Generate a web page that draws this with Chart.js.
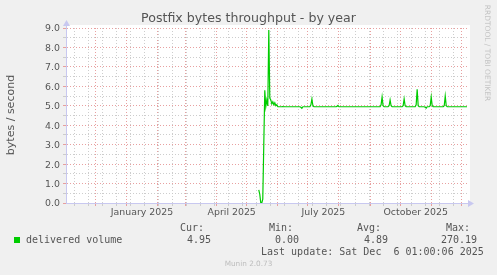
<!DOCTYPE html>
<html>
<head>
<meta charset="utf-8">
<script src="https://cdn.jsdelivr.net/npm/chart.js@4/dist/chart.umd.min.js"></script>
<style>
  html, body { margin: 0; padding: 0; background: #f0f0f0; }
  #wrap { position: relative; width: 497px; height: 275px; overflow: hidden; background: #f0f0f0; }
  #wrap canvas { position: absolute; left: 0; top: 0; }
  .t { position: absolute; white-space: pre; color: #555; font-family: 'DejaVu Sans', sans-serif; }
  .mono { font-family: 'DejaVu Sans Mono', monospace; font-size: 10px; line-height: 12px; height: 12px; }
  .r { text-align: right; width: 100px; }
</style>
</head>
<body>
<div id="wrap">
  <canvas id="chart" width="497" height="275"></canvas>
  <div class="t" style="left:0;top:11px;width:497px;text-align:center;font-size:12.6px;line-height:14px;">Postfix bytes throughput - by year</div>
  <div class="t" style="left:-49.5px;top:108px;width:120px;height:14px;text-align:center;font-size:11px;line-height:14px;transform:rotate(-90deg);">bytes / second</div>
  <div class="t" style="left:437px;top:47px;width:100px;height:12px;text-align:center;font-size:7.5px;line-height:12px;color:#c4c4c4;transform:rotate(90deg);">RRDTOOL / TOBI OETIKER</div>

  <div style="position:absolute;left:14px;top:237px;width:6px;height:6px;background:#00cc00;"></div>
  <div class="t mono" style="left:26px;top:234px;">delivered volume</div>
  <div class="t mono r" style="left:104px;top:222px;">Cur:</div>
  <div class="t mono r" style="left:111px;top:234px;">4.95</div>
  <div class="t mono r" style="left:193px;top:222px;">Min:</div>
  <div class="t mono r" style="left:199px;top:234px;">0.00</div>
  <div class="t mono r" style="left:281px;top:222px;">Avg:</div>
  <div class="t mono r" style="left:288px;top:234px;">4.89</div>
  <div class="t mono r" style="left:370px;top:222px;">Max:</div>
  <div class="t mono r" style="left:377px;top:234px;">270.19</div>
  <div class="t mono" style="left:261px;top:246px;">Last update: Sat Dec  6 01:00:06 2025</div>
  <div class="t" style="left:0;top:259px;width:497px;text-align:center;font-size:7.3px;line-height:10px;color:#bdbdbd;">Munin 2.0.73</div>
</div>
<script>
// graph window: 400 days ending Sat Dec 6 2025
const graphStart = Date.UTC(2024, 10, 1, 17);
const graphDays = 400;
const dayOf = (y, m, d) => (Date.UTC(y, m, d) - graphStart) / 864e5;

// daily averages of delivered volume (bytes / second), first sample 2025-05-13
const firstSample = [2025, 4, 13];
const delivered = [
  0.67, 0.45, 0.00, 0.00, 0.20, 3.00, 5.80, 4.95, 5.30, 5.00,
  8.90, 5.40, 5.30, 5.10, 5.20, 5.05, 5.15, 5.00, 5.05, 4.95,
  4.95, 4.95, 4.95, 4.95, 4.96, 4.95, 4.95, 4.95, 4.95, 4.95,
  4.95, 4.95, 4.95, 4.95, 4.95, 4.95, 4.95, 4.95, 4.95, 4.95,
  4.95, 4.95, 4.92, 4.87, 4.95, 4.95, 4.95, 4.95, 4.95, 4.95,
  4.95, 4.95, 5.05, 5.35, 5.00, 4.95, 4.95, 4.95, 4.95, 4.95,
  4.95, 4.95, 4.95, 4.95, 4.95, 4.95, 4.95, 4.95, 4.95, 4.95,
  4.95, 4.95, 4.95, 4.95, 4.95, 4.95, 4.95, 4.95, 4.97, 5.02,
  4.95, 4.95, 4.95, 4.95, 4.95, 4.95, 4.95, 4.95, 4.95, 4.95,
  4.95, 4.95, 4.95, 4.95, 4.95, 4.95, 4.95, 4.95, 4.95, 4.95,
  4.95, 4.95, 4.95, 4.95, 4.95, 4.95, 4.95, 4.95, 4.95, 4.95,
  4.95, 4.95, 4.95, 4.95, 4.95, 4.95, 4.95, 4.95, 4.95, 4.95,
  4.95, 4.95, 5.05, 5.45, 5.00, 4.95, 4.95, 4.95, 4.95, 4.95,
  5.00, 5.30, 5.00, 4.95, 4.95, 4.95, 4.95, 4.95, 4.95, 4.95,
  4.95, 4.95, 4.95, 4.95, 5.00, 5.35, 5.00, 4.95, 4.95, 4.95,
  4.95, 4.95, 4.95, 4.95, 4.95, 4.95, 4.95, 5.05, 5.85, 5.00,
  4.95, 4.95, 4.95, 4.95, 4.95, 4.95, 4.92, 4.88, 4.95, 4.95,
  4.95, 5.00, 5.45, 5.00, 4.95, 4.95, 4.95, 4.95, 4.95, 4.95,
  4.95, 4.95, 4.95, 4.95, 4.95, 5.00, 5.50, 5.00, 4.95, 4.95,
  4.95, 4.95, 4.95, 4.95, 4.95, 4.95, 4.95, 4.95, 4.95, 4.95,
  4.95, 4.95, 4.95, 4.95, 4.95, 4.95, 4.95, 4.95, 4.95
];

const monthNames = ['January', 'February', 'March', 'April', 'May', 'June', 'July',
  'August', 'September', 'October', 'November', 'December'];
const labelledMonths = [[2025, 0], [2025, 3], [2025, 6], [2025, 9]];
const yTicks = [0, 1, 2, 3, 4, 5, 6, 7, 8, 9];

const firstDay = dayOf(...firstSample);
const points = delivered.map((v, i) => ({ x: firstDay + i, y: v }));

const majorColor = 'rgba(230,150,150,0.9)';
const minorColor = 'rgba(200,200,200,0.9)';
const axisColor = '#c8c8f0';

function buildXTicks(scale) {
  const ticks = [];
  // minor grid every 2 weeks
  for (let d = dayOf(2024, 10, 10); d < graphDays; d += 14) ticks.push({ value: d, kind: 'minor' });
  // major grid at month starts
  for (let m = 11; m <= 23; m++) {
    const d = dayOf(2024, m, 1);
    if (d > 0 && d < graphDays) ticks.push({ value: d, kind: 'major' });
  }
  // month labels centred in their month
  labelledMonths.forEach(([y, m]) => {
    const mid = (dayOf(y, m, 1) + dayOf(y, m + 1, 1)) / 2;
    ticks.push({ value: mid, kind: 'label', text: monthNames[m] + ' ' + y });
  });
  ticks.sort((a, b) => a.value - b.value);
  scale.ticks = ticks;
}

function buildYTicks(scale) {
  const ticks = [];
  yTicks.forEach(v => {
    ticks.push({ value: v, kind: 'major' });
    if (v < yTicks[yTicks.length - 1]) ticks.push({ value: v + 0.5, kind: 'minor' });
  });
  ticks.sort((a, b) => a.value - b.value);
  scale.ticks = ticks;
}

const gridColor = ctx => {
  const k = ctx.tick && ctx.tick.kind;
  if (k === 'major') return majorColor;
  if (k === 'minor') return minorColor;
  return 'rgba(0,0,0,0)';
};

const plotBackground = {
  id: 'plotBackground',
  beforeDraw(chart) {
    const { ctx, chartArea: a } = chart;
    ctx.save();
    ctx.fillStyle = '#ffffff';
    ctx.fillRect(a.left, a.top - 3, a.right - a.left + 3, a.bottom - a.top + 3);
    ctx.restore();
  },
  afterDraw(chart) {
    const { ctx, chartArea: a } = chart;
    ctx.save();
    ctx.strokeStyle = axisColor;
    ctx.fillStyle = axisColor;
    ctx.lineWidth = 1;
    ctx.beginPath();
    ctx.moveTo(a.left + 0.5, a.top);
    ctx.lineTo(a.left + 0.5, a.top - 4);
    ctx.moveTo(a.right, a.bottom + 0.5);
    ctx.lineTo(a.right + 3, a.bottom + 0.5);
    ctx.stroke();
    // arrow heads
    ctx.beginPath();
    ctx.moveTo(a.left + 0.5, a.top - 8);
    ctx.lineTo(a.left - 3, a.top - 2);
    ctx.lineTo(a.left + 4, a.top - 2);
    ctx.closePath();
    ctx.fill();
    ctx.beginPath();
    ctx.moveTo(a.right + 7, a.bottom + 0.5);
    ctx.lineTo(a.right + 1, a.bottom - 3);
    ctx.lineTo(a.right + 1, a.bottom + 4);
    ctx.closePath();
    ctx.fill();
    ctx.restore();
  }
};

new Chart(document.getElementById('chart'), {
  type: 'line',
  data: {
    datasets: [{
      label: 'delivered volume',
      data: points,
      borderColor: '#00cc00',
      borderWidth: 1.2,
      pointRadius: 0,
      tension: 0,
      fill: false,
    }],
  },
  options: {
    responsive: false,
    animation: false,
    events: [],
    layout: { padding: { left: 0, top: 28, right: 30, bottom: 52 } },
    plugins: {
      legend: { display: false },
      title: { display: false },
      tooltip: { enabled: false },
    },
    scales: {
      x: {
        type: 'linear',
        min: 0,
        max: graphDays,
        afterBuildTicks: buildXTicks,
        afterFit: scale => { scale.height = 20; },
        grid: {
          color: gridColor,
          tickColor: gridColor,
          tickLength: 3,
          lineWidth: 1,
        },
        border: { color: axisColor, dash: [1, 2] },
        ticks: {
          autoSkip: false,
          maxRotation: 0,
          padding: 1,
          color: '#555',
          font: { family: 'DejaVu Sans', size: 9.4 },
          callback: (v, i, ticks) => ticks[i].kind === 'label' ? ticks[i].text : '',
        },
      },
      y: {
        min: 0,
        max: 9,
        afterBuildTicks: buildYTicks,
        afterFit: scale => { scale.width = 66; },
        grid: {
          color: gridColor,
          tickColor: gridColor,
          tickLength: 3,
          lineWidth: 1,
        },
        border: { color: axisColor, dash: [1, 2] },
        ticks: {
          autoSkip: false,
          padding: 3,
          labelOffset: 1,
          color: '#555',
          font: { family: 'DejaVu Sans', size: 9.4 },
          callback: (v, i, ticks) => ticks[i].kind === 'major' ? v.toFixed(1) : '',
        },
      },
    },
  },
  plugins: [plotBackground],
});
</script>
</body>
</html>
